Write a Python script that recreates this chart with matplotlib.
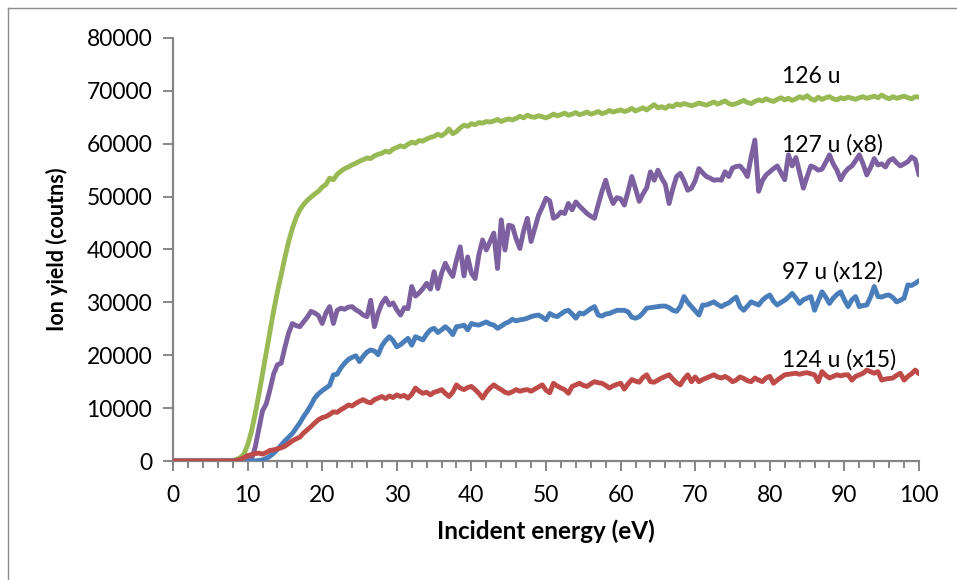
import numpy as np
import matplotlib
matplotlib.use("Agg")
import matplotlib.pyplot as plt
from matplotlib.lines import Line2D

# Incident energy grid (eV), 0.5 eV steps from 0 to 100
energy = np.arange(0, 100.01, 0.5)

# Ion yields in thousands of counts (scaled series as labelled)
y126 = [
    0, 0, 0, 0, 0, 0, 0, 0, 0, 0,
    0, 0, 0, 0, 0, 0, 0.1, 0.3, 0.6, 1.3,
    3.0, 5.5, 8.8, 12.5, 16.5, 20.5, 24.5, 28.5, 32.0, 35.2,
    38.5, 41.5, 44.0, 46.0, 47.5, 48.5, 49.3, 49.9, 50.5, 51.0,
    51.8, 52.3, 53.5, 53.2, 54.2, 54.8, 55.3, 55.6, 56.0, 56.3,
    56.7, 57.0, 57.3, 57.2, 57.7, 58.0, 58.2, 58.6, 58.4, 59.0,
    59.3, 59.6, 59.4, 59.9, 60.3, 60.1, 60.6, 60.5, 60.9, 61.2,
    61.4, 61.8, 61.5, 62.0, 62.8, 61.9, 62.3, 63.0, 63.5, 63.3,
    63.8, 63.6, 64.0, 63.9, 64.2, 64.1, 64.3, 64.6, 64.2, 64.5,
    64.7, 64.5, 64.8, 65.2, 64.9, 65.4, 65.1, 65.0, 65.3, 65.1,
    64.9, 65.2, 65.6, 65.3, 65.5, 65.8, 65.4, 65.6, 65.9, 65.5,
    65.7, 66.0, 65.6, 65.8, 66.1, 65.7, 65.9, 66.3, 66.0, 66.2,
    66.4, 66.1, 66.3, 66.7, 66.2, 66.5, 66.8, 66.4, 66.9, 67.4,
    66.8, 67.0, 66.7, 67.2, 67.0, 67.5, 67.3, 67.6, 67.4, 67.2,
    67.4, 67.7, 67.5, 67.3, 67.6, 67.9, 67.5, 67.8, 68.1, 67.6,
    67.4, 67.6, 67.9, 68.2, 67.8, 67.6, 68.0, 68.3, 68.1, 68.5,
    68.2, 68.0, 68.4, 68.7, 68.3, 68.6, 68.2, 68.5, 68.9, 68.6,
    69.1, 68.5, 68.2, 68.8, 68.4, 68.7, 68.9, 68.5, 68.3, 68.7,
    68.5, 68.8, 68.6, 68.4, 68.7, 68.9, 68.6, 68.8, 69.0, 68.7,
    69.2, 68.8, 68.5, 68.9, 68.6, 68.8, 69.0, 68.7, 68.5, 68.9,
    68.8,
]

y127 = [
    0, 0, 0, 0, 0, 0, 0, 0, 0, 0,
    0, 0, 0, 0, 0, 0, 0, 0, 0.2, 0.5,
    1.0, 0.2, 2.5, 6.0, 9.5, 10.8, 13.5, 16.5, 18.2, 18.5,
    21.5, 24.2, 26.0, 25.6, 25.4, 26.3, 27.2, 28.3, 28.0, 27.5,
    26.0, 28.0, 29.2, 26.0, 28.5, 28.9, 28.7, 29.1, 29.2, 28.6,
    28.2, 27.6, 27.3, 30.4, 25.4, 28.0, 29.8, 30.8, 29.5, 29.9,
    28.6, 27.6, 29.0, 28.8, 33.0, 31.2, 31.8, 32.6, 33.6, 32.5,
    35.8, 32.6, 35.5, 37.4, 36.0, 34.9, 38.0, 40.5, 35.0, 38.6,
    35.5, 34.5, 39.0, 41.8, 39.9, 41.5, 43.1, 36.4, 45.6, 39.9,
    44.6, 44.4, 42.0, 40.2, 43.5, 45.9, 41.5, 44.0, 46.5, 48.0,
    49.7, 49.2, 45.9, 46.3, 47.1, 46.8, 48.7, 47.5, 49.0, 48.2,
    47.5, 46.8, 46.3, 45.9, 48.5, 51.0, 53.1, 50.5, 48.7, 49.8,
    49.6, 48.4, 51.0, 53.8, 51.5, 49.1, 50.5, 51.7, 54.7, 53.1,
    55.0, 53.5, 52.3, 48.7, 51.5, 53.8, 54.4, 53.0, 51.2, 51.6,
    53.0, 55.3, 54.5, 53.8, 53.5, 53.1, 53.2, 53.1, 54.7, 53.8,
    55.4, 55.7, 55.8, 55.0, 53.8, 57.5, 60.7, 51.0, 53.0, 54.1,
    54.7, 55.3, 55.8, 54.5, 53.2, 57.9, 55.8, 57.4, 54.5, 51.6,
    53.8, 55.8, 55.5, 55.0, 55.2, 56.5, 57.9, 56.2, 55.0, 53.2,
    54.5, 55.3, 55.8, 56.8, 57.9, 56.2, 54.1, 55.5, 57.2, 56.0,
    56.2, 55.6, 56.8, 57.2, 56.4, 55.8, 56.2, 56.6, 57.5, 57.0,
    54.1,
]

y97 = [
    0, 0, 0, 0, 0, 0, 0, 0, 0, 0,
    0, 0, 0, 0, 0, 0, 0, 0, 0, 0,
    0, 0, 0, 0.1, 0.2, 0.5, 0.9, 1.5, 2.2, 3.0,
    3.8, 4.5, 5.2, 6.2, 7.2, 8.4, 9.4, 10.6, 11.9, 12.7,
    13.3, 13.8, 14.3, 16.3, 16.4, 17.6, 18.5, 19.2, 19.6, 19.9,
    18.8, 19.8, 20.6, 21.0, 20.8, 20.1, 21.8, 22.8, 23.5, 22.8,
    21.6, 22.0, 22.6, 23.2, 21.9, 23.5, 23.2, 22.9, 24.0, 24.8,
    25.1, 24.3, 24.8, 25.4, 24.8, 23.9, 25.4, 25.5, 25.7, 24.8,
    26.0, 25.8, 25.7, 26.0, 26.3, 25.9, 25.7, 25.1, 25.5, 26.0,
    26.3, 26.8, 26.5, 26.7, 26.8, 27.0, 27.3, 27.5, 27.6, 27.2,
    26.7, 27.9, 27.5, 27.3, 27.8, 28.3, 28.5, 27.8, 27.0, 28.0,
    27.8, 28.3, 28.8, 29.2, 27.6, 27.4, 27.8, 27.9, 28.2, 28.5,
    28.5, 28.5, 28.2, 27.2, 27.0, 27.3, 28.0, 28.9, 29.0, 29.1,
    29.2, 29.3, 29.3, 29.0, 28.5, 28.3, 29.2, 31.1, 30.0, 29.2,
    28.4, 27.6, 29.5, 29.5, 29.8, 30.1, 29.6, 29.2, 29.6, 29.9,
    30.5, 31.0, 29.2, 28.5, 29.3, 30.1, 29.8, 29.5, 30.4, 31.0,
    31.4, 30.2, 29.5, 30.0, 30.4, 31.0, 31.7, 30.8, 29.8, 30.5,
    30.8, 31.1, 28.5, 30.3, 32.0, 31.0, 29.8, 30.8, 31.5, 32.0,
    30.5, 29.2, 30.5, 31.1, 29.2, 29.4, 29.5, 31.0, 33.0, 31.1,
    31.0, 31.3, 31.4, 30.9, 30.1, 30.4, 30.8, 33.3, 33.2, 33.6,
    34.1,
]

y124 = [
    0, 0, 0, 0, 0, 0, 0, 0, 0, 0,
    0, 0, 0, 0, 0, 0, 0, 0.1, 0.3, 0.6,
    1.0, 1.2, 1.4, 1.5, 1.3, 1.6, 2.0, 2.1, 2.3, 2.5,
    2.8, 3.3, 3.8, 4.2, 4.5, 5.3, 5.9, 6.5, 7.2, 7.8,
    8.2, 8.4, 8.8, 9.3, 9.2, 9.7, 10.1, 10.6, 10.4, 10.9,
    11.3, 11.6, 11.2, 11.0, 11.6, 11.9, 12.2, 11.8, 12.3, 12.0,
    12.5, 12.2, 12.4, 11.9, 12.6, 13.8, 13.2, 12.8, 13.0, 12.5,
    13.0, 13.2, 13.5, 12.8, 12.2, 13.0, 14.4, 13.8, 13.5, 13.9,
    14.1, 13.5, 12.8, 11.9, 13.0, 13.8, 14.4, 13.9, 13.5, 13.0,
    12.8, 13.1, 13.5, 13.2, 13.4, 13.5, 13.2, 13.6, 14.0, 14.4,
    13.4, 12.9, 14.7, 14.2, 13.8, 13.5, 12.8, 14.1, 14.4, 14.7,
    14.3, 14.1, 14.6, 15.0, 14.8, 14.7, 14.3, 13.8, 14.2, 14.5,
    14.7, 13.6, 14.6, 15.4, 15.1, 14.9, 15.8, 16.3, 15.0, 14.9,
    15.3, 15.7, 16.0, 16.3, 15.5, 14.8, 14.4, 15.5, 16.3, 15.0,
    15.9, 15.0, 15.4, 15.7, 16.0, 16.3, 15.9, 15.7, 16.0, 15.6,
    15.0, 15.3, 15.9, 15.6, 15.2, 15.0, 15.7, 15.3, 15.0, 15.7,
    16.0, 14.7, 15.3, 15.8, 16.3, 16.4, 16.5, 16.6, 16.4, 16.6,
    16.7, 16.5, 16.3, 15.0, 16.9, 16.2, 15.7, 16.0, 16.3, 16.1,
    16.3, 16.3, 15.3, 16.0, 16.3, 16.6, 17.2, 16.9, 16.6, 16.9,
    15.3, 15.5, 15.6, 15.7, 16.2, 16.6, 15.3, 16.0, 16.5, 17.2,
    16.5,
]

series_labels = ["126 u", "127 u (x8)", "97 u (x12)", "124 u (x15)"]
label_x = 81.6
label_y = [71400, 58500, 34550, 17800]

x_ticks = list(range(0, 101, 10))
y_ticks = list(range(0, 80001, 10000))

colors = ["#98B954", "#7D60A0", "#4A7EBB", "#BE4B48"]
axis_gray = "#868686"
FONT = "Lato"

fig = plt.figure(figsize=(9.57, 5.80), dpi=100)
W, H = 957, 580
ax = fig.add_axes([173 / W, 1 - 461 / H, (919 - 173) / W, (461 - 38) / H])

# outer chart border (top and left edges inside the canvas)
fig.add_artist(Line2D([8 / W, 1.0], [1 - 8 / H, 1 - 8 / H], color="#8c8c8c",
                      lw=1.0, transform=fig.transFigure))
fig.add_artist(Line2D([8 / W, 8 / W], [0.0, 1 - 8 / H], color="#8c8c8c",
                      lw=1.0, transform=fig.transFigure))

all_series = [y126, y127, y97, y124]
for vals, c in zip(all_series, colors):
    ax.plot(energy, np.array(vals) * 1000, color=c, lw=3.5,
            solid_joinstyle="round", solid_capstyle="round", zorder=3)

for lbl, ly in zip(series_labels, label_y):
    ax.text(label_x, ly, lbl, fontsize=16.5, family=FONT, ha="left",
            va="baseline", color="black", zorder=4)

ax.set_xlim(0, 100)
ax.set_ylim(0, 80000)
ax.set_xticks(x_ticks)
ax.set_xticks(np.arange(0, 101, 2), minor=True)
ax.set_yticks(y_ticks)
ax.set_xticklabels([str(v) for v in x_ticks], fontsize=16.5, family=FONT)
ax.set_yticklabels([str(v) for v in y_ticks], fontsize=16.5, family=FONT)

for side in ["top", "right"]:
    ax.spines[side].set_visible(False)
for side in ["left", "bottom"]:
    ax.spines[side].set_color(axis_gray)
    ax.spines[side].set_linewidth(1.6)

ax.tick_params(axis="both", which="major", direction="out", length=7,
               width=1.4, color=axis_gray, pad=8)
ax.tick_params(axis="x", which="minor", direction="out", length=5,
               width=1.4, color=axis_gray)
ax.tick_params(axis="x", which="major", pad=10)

ax.set_xlabel("Incident energy (eV)", fontsize=17.5, family=FONT,
              fontweight="bold", labelpad=10)
ax.set_ylabel("Ion yield (coutns)", fontsize=15.5, family=FONT,
              fontweight="bold", labelpad=13)

fig.savefig("out.png", dpi=100)
